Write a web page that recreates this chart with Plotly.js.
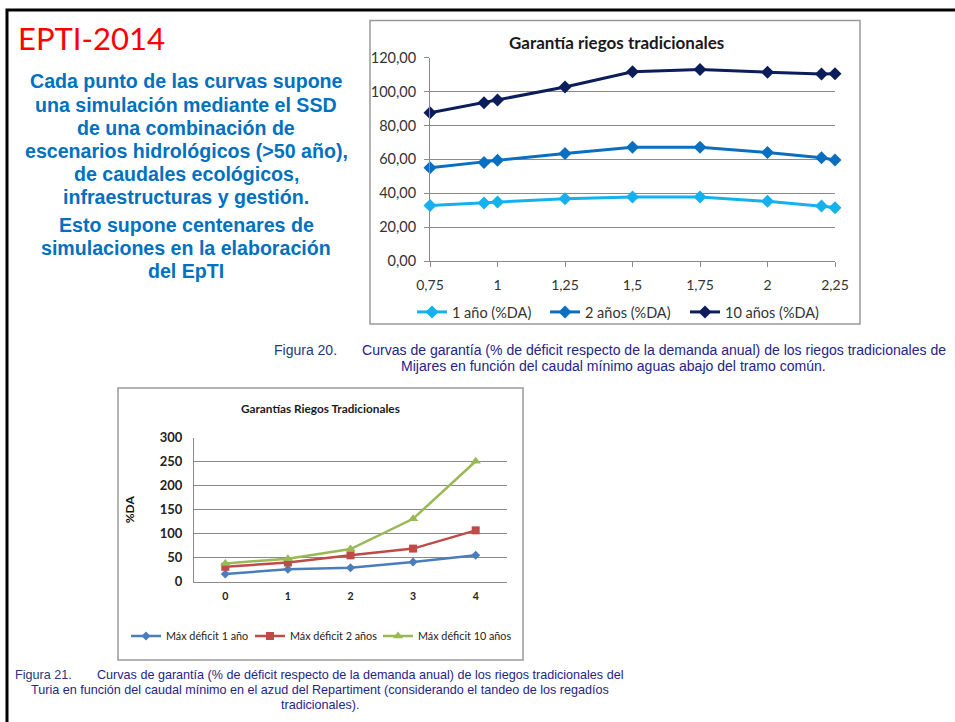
<!DOCTYPE html>
<html>
<head>
<meta charset="utf-8">
<script src="https://cdn.plot.ly/plotly-3.0.1.min.js"></script>
<style>html,body{margin:0;padding:0;background:#fff;overflow:hidden;width:955px;height:722px;}#chart{width:955px;height:722px;}</style>
</head>
<body>
<div id="chart"></div>
<script>
// ---- Data: Figura 20 (Mijares) ----
var caudalMijares = [0.75, 0.95, 1, 1.25, 1.5, 1.75, 2, 2.2, 2.25];
var mijares1 = [32.7, 34.2, 34.8, 36.8, 37.8, 37.8, 35.2, 32.5, 31.5];
var mijares2 = [55.1, 58.2, 59.4, 63.5, 67.1, 67.1, 64.1, 61.0, 59.6];
var mijares10 = [87.5, 93.4, 95.0, 102.7, 111.7, 113.1, 111.4, 110.4, 110.6];
var mijaresTickVals = [0.75, 1, 1.25, 1.5, 1.75, 2, 2.25];
var mijaresTickText = ['0,75', '1', '1,25', '1,5', '1,75', '2', '2,25'];
var mijaresNames = ['1 año (%DA)', '2 años (%DA)', '10 años (%DA)'];

// ---- Data: Figura 21 (Turia) ----
var caudalTuria = ['0', '1', '2', '3', '4'];
var turia1 = [16, 26, 29, 41, 55];
var turia2 = [31, 40, 55, 69, 107];
var turia10 = [38, 48, 68, 131, 251];
var turiaNames = ['Máx déficit 1 año', 'Máx déficit 2 años', 'Máx déficit 10 años'];

// ---- Texts ----
var slideTitle = 'EPTI-2014';
var para1 = ['Cada punto de las curvas supone', 'una simulación mediante el SSD', 'de una combinación de',
             'escenarios hidrológicos (>50 año),', 'de caudales ecológicos,', 'infraestructuras y gestión.'];
var para2 = ['Esto supone centenares de', 'simulaciones en la elaboración', 'del EpTI'];
var title20 = 'Garantía riegos tradicionales';
var title21 = 'Garantías Riegos Tradicionales';
var cap20 = ['Figura 20.', 'Curvas de garantía (% de déficit respecto de la demanda anual) de los riegos tradicionales de',
             'Mijares en función del caudal mínimo aguas abajo del tramo común.'];
var cap21 = ['Figura 21.', 'Curvas de garantía (% de déficit respecto de la demanda anual) de los riegos tradicionales del',
             'Turia en función del caudal mínimo en el azud del Repartiment (considerando el tandeo de los regadíos',
             'tradicionales).'];

var W = 955, H = 722;
function px(x) { return x / W; }
function py(y) { return 1 - y / H; }

var F = 'Lato, "Open Sans", sans-serif';
var FB = '"Liberation Sans", Arial, sans-serif';
var mColors = ['#14b1ef', '#0a6fc0', '#0b1d5a'];
var tColors = ['#4a7ebb', '#be4b48', '#98b954'];
var tSymbols = ['diamond', 'square', 'triangle-up'];
var tSizes = [7, 8, 9];
var mLegendX = [412, 545, 685];
var tLegendX = [126, 250, 378];

var mSeries = [mijares1, mijares2, mijares10];
var tSeries = [turia1, turia2, turia10];

var traces = [];
mSeries.forEach(function (ys, i) {
  traces.push({
    x: caudalMijares, y: ys, name: mijaresNames[i], type: 'scatter', mode: 'lines+markers',
    xaxis: 'x', yaxis: 'y', legend: i === 0 ? 'legend' : 'legend' + (i + 1), cliponaxis: false,
    line: { color: mColors[i], width: 3 },
    marker: { symbol: 'diamond', size: 10, color: mColors[i] }
  });
});
tSeries.forEach(function (ys, i) {
  traces.push({
    x: caudalTuria, y: ys, name: turiaNames[i], type: 'scatter', mode: 'lines+markers',
    xaxis: 'x2', yaxis: 'y2', legend: 'legend' + (i + 4), cliponaxis: false,
    line: { color: tColors[i], width: 2.5 },
    marker: { symbol: tSymbols[i], size: tSizes[i], color: tColors[i] }
  });
});

var annotations = [];
annotations.push({ xref: 'paper', yref: 'paper', x: px(16), y: py(38), xanchor: 'left', yanchor: 'middle',
  text: slideTitle, showarrow: false, font: { family: F, size: 31, color: '#ff0000' } });
para1.forEach(function (t, i) {
  annotations.push({ xref: 'paper', yref: 'paper', x: px(186), y: py(81.5 + i * 23.1), xanchor: 'center', yanchor: 'middle',
    text: t, showarrow: false, borderpad: 0, font: { family: FB, size: 19.6, weight: 'bold', color: '#0070c0' } });
});
para2.forEach(function (t, i) {
  annotations.push({ xref: 'paper', yref: 'paper', x: px(186), y: py(225 + i * 23), xanchor: 'center', yanchor: 'middle',
    text: t, showarrow: false, borderpad: 0, font: { family: FB, size: 19.6, weight: 'bold', color: '#0070c0' } });
});
annotations.push({ xref: 'paper', yref: 'paper', x: px(616), y: py(43), xanchor: 'center', yanchor: 'middle',
  text: title20, showarrow: false, font: { family: F, size: 17, weight: 'bold', color: '#1a1a1a' } });
annotations.push({ xref: 'paper', yref: 'paper', x: px(320), y: py(408), xanchor: 'center', yanchor: 'middle',
  text: title21, showarrow: false, font: { family: F, size: 11.8, weight: 'bold', color: '#1a1a1a' } });

var capFamily = '"Liberation Sans", Arial, sans-serif';
var cap20Font = { family: capFamily, size: 14.05, color: '#25248a' };
var fig20Font = { family: capFamily, size: 14, color: '#24397a' };
var cap21Font = { family: capFamily, size: 12.6, color: '#25248a' };
var fig21Font = { family: capFamily, size: 12.6, color: '#24397a' };
annotations.push({ xref: 'paper', yref: 'paper', x: px(272), y: py(350), xanchor: 'left', yanchor: 'middle', text: cap20[0], showarrow: false, font: fig20Font });
annotations.push({ xref: 'paper', yref: 'paper', x: px(361), y: py(350), xanchor: 'left', yanchor: 'middle', text: cap20[1], showarrow: false, borderpad: 0, font: cap20Font });
annotations.push({ xref: 'paper', yref: 'paper', x: px(613), y: py(366), xanchor: 'center', yanchor: 'middle', text: cap20[2], showarrow: false, font: cap20Font });
annotations.push({ xref: 'paper', yref: 'paper', x: px(13), y: py(675), xanchor: 'left', yanchor: 'middle', text: cap21[0], showarrow: false, font: fig21Font });
annotations.push({ xref: 'paper', yref: 'paper', x: px(95), y: py(675), xanchor: 'left', yanchor: 'middle', text: cap21[1], showarrow: false, font: cap21Font });
annotations.push({ xref: 'paper', yref: 'paper', x: px(319.5), y: py(690), xanchor: 'center', yanchor: 'middle', text: cap21[2], showarrow: false, font: cap21Font });
annotations.push({ xref: 'paper', yref: 'paper', x: px(319.5), y: py(705), xanchor: 'center', yanchor: 'middle', text: cap21[3], showarrow: false, font: cap21Font });

var shapes = [
  { type: 'rect', xref: 'paper', yref: 'paper', x0: px(7), x1: px(1100), y0: py(10), y1: py(900), line: { color: '#000', width: 3 } },
  { type: 'rect', xref: 'paper', yref: 'paper', x0: px(370), x1: px(860), y0: py(20.5), y1: py(324), line: { color: '#9a9a9a', width: 1.5 } },
  { type: 'rect', xref: 'paper', yref: 'paper', x0: px(118), x1: px(523), y0: py(388), y1: py(660), line: { color: '#9a9a9a', width: 1.5 } }
];

var grid = '#8a8a8a';
var layout = {
  width: W, height: H, margin: { l: 0, r: 0, t: 0, b: 0 },
  paper_bgcolor: '#fff', plot_bgcolor: 'rgba(0,0,0,0)',
  separators: ',.', showlegend: true, hovermode: false,
  xaxis: {
    domain: [px(430), px(835)], anchor: 'y', range: [0.75, 2.25],
    tickvals: mijaresTickVals, ticktext: mijaresTickText,
    showgrid: false, zeroline: false, showline: true, linecolor: grid, linewidth: 1,
    ticks: 'outside', ticklen: 5, tickcolor: grid, ticklabelstandoff: 6,
    tickfont: { family: F, size: 14, color: '#333' }
  },
  yaxis: {
    domain: [py(261), py(57.7)], anchor: 'x', range: [0, 120], dtick: 20, tickformat: '.2f',
    showgrid: true, gridcolor: grid, gridwidth: 1, zeroline: false, showline: true, linecolor: grid,
    ticks: 'outside', ticklen: 5, tickcolor: grid, ticklabelstandoff: 5,
    tickfont: { family: F, size: 14.5, color: '#333' }
  },
  xaxis2: {
    domain: [px(194), px(507)], anchor: 'y2', type: 'category', categoryorder: 'array', categoryarray: caudalTuria,
    range: [-0.5, 4.5], showgrid: false, zeroline: false, showline: true, linecolor: grid,
    ticks: '', ticklabelstandoff: 5,
    tickfont: { family: F, size: 10.5, weight: 'bold', color: '#222' }
  },
  yaxis2: {
    domain: [py(581.7), py(437.7)], anchor: 'x2', range: [0, 300], dtick: 50,
    showgrid: true, gridcolor: grid, zeroline: false, showline: true, linecolor: grid,
    ticks: '', ticklabelstandoff: 8,
    tickfont: { family: F, size: 13, weight: 'bold', color: '#222' },
    title: { text: '%DA', standoff: 22, font: { family: F, size: 12, weight: 'bold', color: '#111' } }
  },
  annotations: annotations,
  shapes: shapes
};

function legendAt(xPix, yPix, size, color) {
  return {
    orientation: 'h', x: px(xPix), xanchor: 'left', y: py(yPix), yanchor: 'middle',
    bgcolor: 'rgba(0,0,0,0)', borderwidth: 0, itemwidth: 30,
    font: { family: F, size: size, color: color }, itemclick: false, itemdoubleclick: false
  };
}
layout.legend = legendAt(mLegendX[0], 312, 14.5, '#333');
layout.legend2 = legendAt(mLegendX[1], 312, 14.5, '#333');
layout.legend3 = legendAt(mLegendX[2], 312, 14.5, '#333');
layout.legend4 = legendAt(tLegendX[0], 636, 10.8, '#222');
layout.legend5 = legendAt(tLegendX[1], 636, 10.8, '#222');
layout.legend6 = legendAt(tLegendX[2], 636, 10.8, '#222');

Plotly.newPlot('chart', traces, layout, { staticPlot: true, displayModeBar: false });
</script>
</body>
</html>
